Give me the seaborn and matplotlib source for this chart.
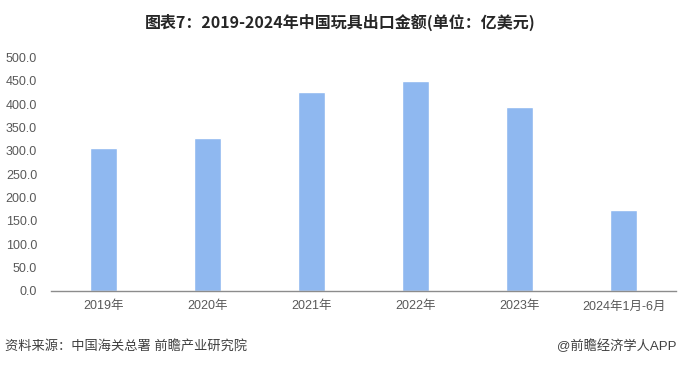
import pandas as pd
import matplotlib.pyplot as plt
import seaborn as sns

# === Data ===
years = ["2019年", "2020年", "2021年", "2022年", "2023年", "2024年1月-6月"]
export_value = [306.0, 327.5, 425.5, 449.0, 393.5, 173.0]
y_ticks = [0, 50, 100, 150, 200, 250, 300, 350, 400, 450, 500]

df = pd.DataFrame({"year": years, "value": export_value})

# === Style ===
sns.set_theme(style="white")
plt.rcParams["font.family"] = ["Liberation Sans", "Noto Sans CJK SC", "DejaVu Sans"]

fig = plt.figure(figsize=(6.8, 3.68), dpi=100)
ax = fig.add_axes([0.075, 0.21, 0.919, 0.634])

sns.barplot(data=df, x="year", y="value", color="#8FB8F0", saturation=1,
            width=0.26, ax=ax)

ax.set_ylim(0, 500)
ax.set_yticks(y_ticks)
ax.set_yticklabels([f"{t:.1f}" for t in y_ticks])
ax.set_xlabel("")
ax.set_ylabel("")
ax.tick_params(axis="both", length=0, labelsize=9, colors="#595959")
ax.tick_params(axis="y", pad=10)
ax.tick_params(axis="x", pad=7)

for side in ["top", "right", "left"]:
    ax.spines[side].set_visible(False)
ax.spines["bottom"].set_color("#8c8c8c")
ax.spines["bottom"].set_linewidth(1)

# === Text ===
fig.text(0.5, 0.94, "图表7：2019-2024年中国玩具出口金额(单位：亿美元)",
         ha="center", va="center", fontsize=11.5, fontweight="bold", color="#262626",
         family=["Noto Sans CJK SC", "DejaVu Sans"])
fig.text(0.008, 0.06, "资料来源：中国海关总署 前瞻产业研究院",
         ha="left", va="center", fontsize=9.5, color="#404040")
fig.text(0.995, 0.06, "@前瞻经济学人APP",
         ha="right", va="center", fontsize=9.5, color="#404040")

plt.savefig("out.png", dpi=100)
plt.close()
